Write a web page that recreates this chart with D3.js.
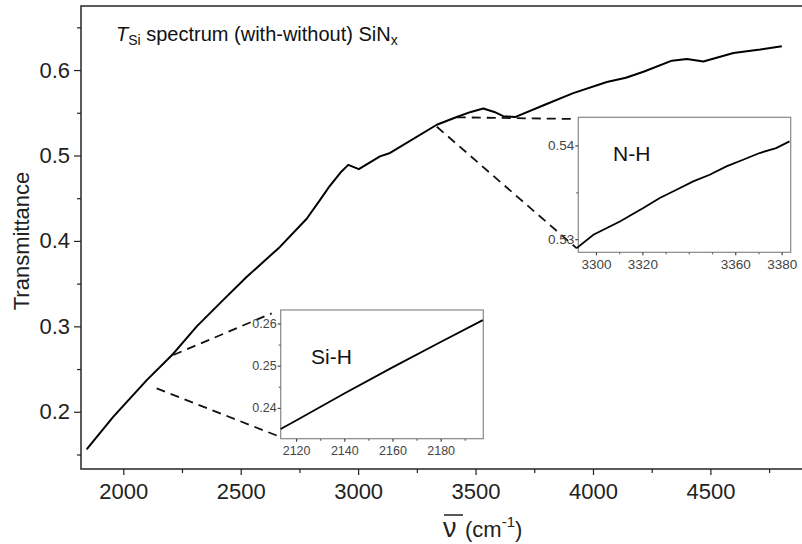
<!DOCTYPE html>
<html>
<head>
<meta charset="utf-8">
<script src="https://cdn.jsdelivr.net/npm/d3@7/dist/d3.min.js"></script>
<style>
  body { margin: 0; background: #fff; }
  text { font-family: "Liberation Sans", Arial, sans-serif; }
</style>
</head>
<body>
<div id="chart-area"></div>
<script>
// main spectrum
const wavenumber = [1844, 1957, 2100, 2213, 2313, 2426, 2526, 2667, 2781, 2838, 2873, 2925, 2958,
  3003, 3093, 3136, 3335, 3420, 3480, 3533, 3580, 3618, 3668, 3800, 3916, 4059, 4140, 4215,
  4336, 4400, 4470, 4598, 4712, 4804];
const transmittance = [0.156, 0.194, 0.237, 0.268, 0.300, 0.331, 0.358, 0.393, 0.426, 0.448, 0.462,
  0.480, 0.489, 0.484, 0.499, 0.503, 0.536, 0.545, 0.551, 0.555, 0.551, 0.546, 0.545, 0.560,
  0.573, 0.586, 0.591, 0.598, 0.611, 0.613, 0.610, 0.620, 0.624, 0.628];

// Si-H inset
const siWavenumber = [2113.6, 2120, 2140, 2160, 2180, 2197.5];
const siTransmittance = [0.2350, 0.2370, 0.2434, 0.2496, 0.2556, 0.2608];

// N-H inset
const nhWavenumber = [3291.7, 3298.9, 3310.3, 3320.4, 3327.5, 3334.7, 3341.9, 3349.0, 3356.2,
  3363.4, 3370.5, 3377.6, 3383.4];
const nhTransmittance = [0.52905, 0.53047, 0.53189, 0.53332, 0.53439, 0.53527, 0.53616, 0.53687,
  0.53776, 0.53847, 0.53919, 0.53972, 0.54043];

// ticks
const xTicks = [2000, 2500, 3000, 3500, 4000, 4500];
const xMinor = [2250, 2750, 3250, 3750, 4250, 4750];
const yTicks = [0.2, 0.3, 0.4, 0.5, 0.6];
const yMinor = [0.15, 0.25, 0.35, 0.45, 0.55, 0.65];
const siXTicks = [2120, 2140, 2160, 2180];
const siXMinor = [2130, 2150, 2170, 2190];
const siYTicks = [0.24, 0.25, 0.26];
const siYMinor = [0.245, 0.255];
const nhXTicks = [3300, 3320, 3360, 3380];
const nhXMinor = [3310, 3330, 3340, 3350, 3370];
const nhYTicks = [0.53, 0.54];
const nhYMinor = [0.535];

// zoom connectors, in main-axis units: [[x0, y0], [x1, y1]]
const connectors = [
  [[2213, 0.2664], [2632, 0.3152]],
  [[2142, 0.2274], [2667, 0.1707]],
  [[3420, 0.5447], [3931, 0.5427]],
  [[3335, 0.5337], [3931, 0.3913]]
];

const W = 802, H = 544;
const svg = d3.select('#chart-area')
  .append('svg')
  .attr('width', W)
  .attr('height', H);

const plot = { left: 81, top: 6, right: 802, bottom: 469 };

const x = d3.scaleLinear().domain([1820, 4890]).range([plot.left, plot.right]);
const y = d3.scaleLinear().domain([0.133, 0.675]).range([plot.bottom, plot.top]);

// frame (right edge falls outside the picture)
svg.append('rect')
  .attr('x', plot.left)
  .attr('y', plot.top)
  .attr('width', plot.right - plot.left + 10)
  .attr('height', plot.bottom - plot.top)
  .attr('fill', 'none')
  .attr('stroke', '#333')
  .attr('stroke-width', 1.6);

const styleAxis = (g, size, color) => {
  g.select('.domain').remove();
  g.selectAll('line').attr('stroke', color).attr('stroke-width', 1.2);
  g.selectAll('text')
    .attr('font-family', '"Liberation Sans", Arial, sans-serif')
    .attr('font-size', size)
    .attr('fill', color);
};

// main axes
svg.append('g')
  .attr('transform', `translate(0, ${plot.bottom})`)
  .call(d3.axisBottom(x).tickValues(xTicks).tickSize(6).tickPadding(8).tickFormat(d3.format('d')))
  .call(g => styleAxis(g, 22, '#222'));
svg.append('g')
  .attr('transform', `translate(0, ${plot.bottom})`)
  .call(d3.axisBottom(x).tickValues(xMinor).tickSize(4).tickFormat(''))
  .call(g => styleAxis(g, 22, '#222'));
svg.append('g')
  .attr('transform', `translate(${plot.left}, 0)`)
  .call(d3.axisLeft(y).tickValues(yTicks).tickSize(7).tickPadding(4).tickFormat(d3.format('.1f')))
  .call(g => styleAxis(g, 22, '#222'));
svg.append('g')
  .attr('transform', `translate(${plot.left}, 0)`)
  .call(d3.axisLeft(y).tickValues(yMinor).tickSize(4).tickFormat(''))
  .call(g => styleAxis(g, 22, '#222'));

// axis titles
svg.append('text')
  .attr('transform', `translate(29, 241) rotate(-90)`)
  .attr('text-anchor', 'middle')
  .attr('font-size', 22)
  .attr('fill', '#222')
  .text('Transmittance');

const nu = svg.append('text')
  .attr('x', 443)
  .attr('y', 537)
  .attr('font-family', '"Liberation Serif", "DejaVu Serif", serif')
  .attr('font-size', 27)
  .attr('fill', '#222')
  .text('ν');
const nb = nu.node().getBBox();
svg.append('line')
  .attr('x1', 444)
  .attr('x2', 463)
  .attr('y1', 515)
  .attr('y2', 515)
  .attr('stroke', '#222')
  .attr('stroke-width', 1.5);
const xt = svg.append('text')
  .attr('x', Math.max(465, nb.x + nb.width + 3))
  .attr('y', 537)
  .attr('font-size', 22)
  .attr('fill', '#222');
xt.append('tspan').text('(cm');
xt.append('tspan').attr('font-size', 15).attr('dy', -10).text('-1');
xt.append('tspan').attr('dy', 10).text(')');

// title
const title = svg.append('text')
  .attr('x', 116)
  .attr('y', 41)
  .attr('font-size', 20)
  .attr('fill', '#111');
title.append('tspan').attr('font-style', 'italic').text('T');
title.append('tspan').attr('font-size', 14).attr('dy', 4).text('Si');
title.append('tspan').attr('dy', -4).text(' spectrum (with-without) SiN');
title.append('tspan').attr('font-size', 14).attr('dy', 4).text('x');

// main curve
const mainData = wavenumber.map((w, i) => ({ w: w, t: transmittance[i] }));
svg.append('path')
  .datum(mainData)
  .attr('fill', 'none')
  .attr('stroke', '#000')
  .attr('stroke-width', 2)
  .attr('stroke-linejoin', 'round')
  .attr('d', d3.line().x(d => x(d.w)).y(d => y(d.t)));

// dashed connectors
svg.selectAll('.connector')
  .data(connectors)
  .enter()
  .append('line')
  .attr('class', 'connector')
  .attr('x1', d => x(d[0][0]))
  .attr('y1', d => y(d[0][1]))
  .attr('x2', d => x(d[1][0]))
  .attr('y2', d => y(d[1][1]))
  .attr('stroke', '#111')
  .attr('stroke-width', 1.8)
  .attr('stroke-dasharray', '9,6');

// inset drawer
const drawInset = (box, xDomain, yDomain, ticks, fontSize, label, labelPos, ws, ts) => {
  const ix = d3.scaleLinear().domain(xDomain).range([box.left, box.right]);
  const iy = d3.scaleLinear().domain(yDomain).range([box.bottom, box.top]);
  const g = svg.append('g');
  g.append('rect')
    .attr('x', box.left)
    .attr('y', box.top)
    .attr('width', box.right - box.left)
    .attr('height', box.bottom - box.top)
    .attr('fill', '#fff')
    .attr('stroke', '#888')
    .attr('stroke-width', 1.2);
  const fmt = d3.format('.2f');
  g.append('g')
    .attr('transform', `translate(0, ${box.bottom})`)
    .call(d3.axisBottom(ix).tickValues(ticks.x).tickSize(3).tickPadding(4).tickFormat(d3.format('d')))
    .call(a => styleAxis(a, fontSize, '#444'));
  g.append('g')
    .attr('transform', `translate(0, ${box.bottom})`)
    .call(d3.axisBottom(ix).tickValues(ticks.xMinor).tickSize(2).tickFormat(''))
    .call(a => styleAxis(a, fontSize, '#666'));
  g.append('g')
    .attr('transform', `translate(${box.left}, 0)`)
    .call(d3.axisLeft(iy).tickValues(ticks.y).tickSize(3).tickPadding(1).tickFormat(fmt))
    .call(a => styleAxis(a, fontSize, '#444'));
  g.append('g')
    .attr('transform', `translate(${box.left}, 0)`)
    .call(d3.axisLeft(iy).tickValues(ticks.yMinor).tickSize(2).tickFormat(''))
    .call(a => styleAxis(a, fontSize, '#666'));
  g.append('text')
    .attr('x', labelPos[0])
    .attr('y', labelPos[1])
    .attr('font-size', 21)
    .attr('fill', '#111')
    .text(label);
  g.append('path')
    .datum(ws.map((w, i) => ({ w: w, t: ts[i] })))
    .attr('fill', 'none')
    .attr('stroke', '#000')
    .attr('stroke-width', 1.8)
    .attr('d', d3.line().x(d => ix(d.w)).y(d => iy(d.t)));
};

drawInset({ left: 280.7, top: 310, right: 483.3, bottom: 438.7 },
  [2113.6, 2197.7], [0.2327, 0.2632],
  { x: siXTicks, xMinor: siXMinor, y: siYTicks, yMinor: siYMinor }, 12.5,
  'Si-H', [311, 364], siWavenumber, siTransmittance);

drawInset({ left: 578.3, top: 117.3, right: 790.7, bottom: 252.3 },
  [3292.4, 3383.9], [0.5286, 0.5430],
  { x: nhXTicks, xMinor: nhXMinor, y: nhYTicks, yMinor: nhYMinor }, 13.5,
  'N-H', [613, 161], nhWavenumber, nhTransmittance);
</script>
</body>
</html>
